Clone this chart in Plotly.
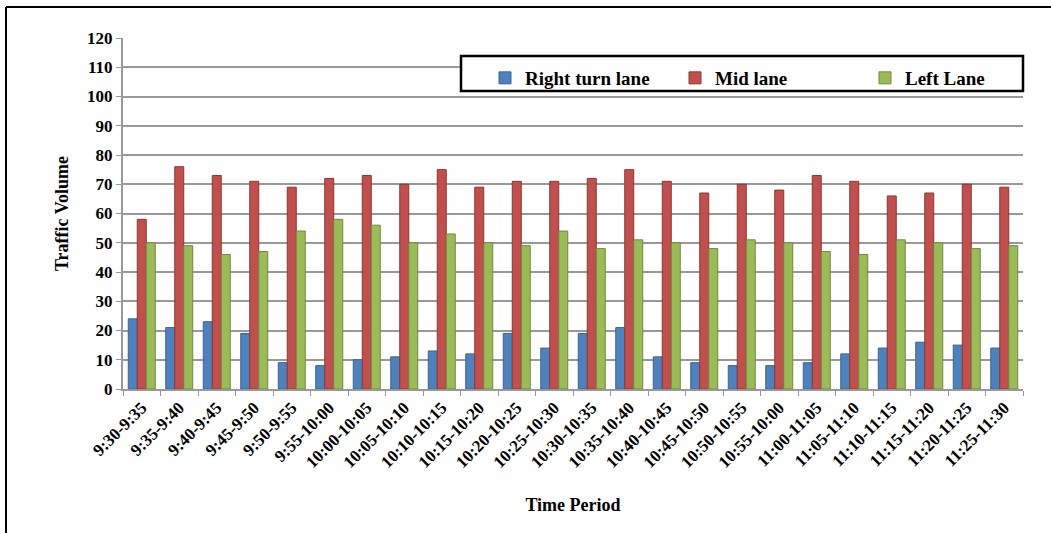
import plotly.graph_objects as go

periods = ["9:30-9:35", "9:35-9:40", "9:40-9:45", "9:45-9:50", "9:50-9:55", "9:55-10:00",
           "10:00-10:05", "10:05-10:10", "10:10-10:15", "10:15-10:20", "10:20-10:25", "10:25-10:30",
           "10:30-10:35", "10:35-10:40", "10:40-10:45", "10:45-10:50", "10:50-10:55", "10:55-10:00",
           "11:00-11:05", "11:05-11:10", "11:10-11:15", "11:15-11:20", "11:20-11:25", "11:25-11:30"]
right_turn = [24, 21, 23, 19, 9, 8, 10, 11, 13, 12, 19, 14, 19, 21, 11, 9, 8, 8, 9, 12, 14, 16, 15, 14]
mid_lane = [58, 76, 73, 71, 69, 72, 73, 70, 75, 69, 71, 71, 72, 75, 71, 67, 70, 68, 73, 71, 66, 67, 70, 69]
left_lane = [50, 49, 46, 47, 54, 58, 56, 50, 53, 50, 49, 54, 48, 51, 50, 48, 51, 50, 47, 46, 51, 50, 48, 49]
y_ticks = list(range(0, 121, 10))

FONT = "Liberation Serif"
W, H = 1051, 533
ML, MR, MT, MB = 123, 28, 38, 144
PW, PH = W - ML - MR, H - MT - MB

fig = go.Figure()
series = [("Right turn lane", right_turn, "#4F81BD", "#3A6496"),
          ("Mid lane", mid_lane, "#C0504D", "#8E3532"),
          ("Left Lane", left_lane, "#9BBB59", "#71893F")]
for name, vals, col, edge in series:
    fig.add_trace(go.Bar(x=periods, y=vals, name=name, marker=dict(color=col, line=dict(color=edge, width=1))))

def px_x(p):
    return (p - ML) / PW

def px_y(p):
    return 1 - (p - MT) / PH

shapes = [
    # outer frame (left and top)
    dict(type="line", xref="paper", yref="paper", x0=px_x(6), x1=px_x(6), y0=px_y(7), y1=px_y(540),
         line=dict(color="black", width=2)),
    dict(type="line", xref="paper", yref="paper", x0=px_x(6), x1=px_x(1060), y0=px_y(7), y1=px_y(7),
         line=dict(color="black", width=2)),
    # legend box
    dict(type="rect", xref="paper", yref="paper", x0=px_x(461), x1=px_x(1023), y0=px_y(56), y1=px_y(91),
         line=dict(color="black", width=2.5), fillcolor="white", layer="above"),
]

fig.update_layout(
    width=W, height=H,
    margin=dict(l=ML, r=MR, t=MT, b=MB, autoexpand=False),
    paper_bgcolor="white", plot_bgcolor="white",
    barmode="group", bargap=0.28, bargroupgap=0.0,
    font=dict(family=FONT, color="black", size=14),
    shapes=shapes,
    showlegend=True,
    legend=dict(orientation="h", x=px_x(485), y=px_y(59), xanchor="left", yanchor="top",
                bgcolor="rgba(0,0,0,0)", borderwidth=0,
                font=dict(family=FONT, size=19, color="black", weight="bold"),
                entrywidth=145, itemwidth=30, traceorder="normal"),
    xaxis=dict(
        type="category", tickangle=-45, tickson="boundaries", ticks="outside", ticklen=5,
        tickcolor="#999999", showline=True, linecolor="#999999", linewidth=2,
        tickfont=dict(family=FONT, size=17, color="black", weight="bold"),
        title=dict(text="Time Period", font=dict(family=FONT, size=18, weight="bold"), standoff=28),
        showgrid=False, automargin=False,
    ),
    yaxis=dict(
        range=[0, 120], tickvals=y_ticks, ticks="outside", ticklen=5, tickcolor="#999999",
        showline=True, linecolor="#999999", linewidth=2,
        gridcolor="#999999", gridwidth=2,
        tickfont=dict(family=FONT, size=17, color="black", weight="bold"),
        title=dict(text="Traffic Volume", font=dict(family=FONT, size=18, weight="bold"), standoff=14),
        zeroline=False, automargin=False,
    ),
)

fig.write_html("out.html", post_script="document.body.style.margin='0';",
               config={"displayModeBar": False})
